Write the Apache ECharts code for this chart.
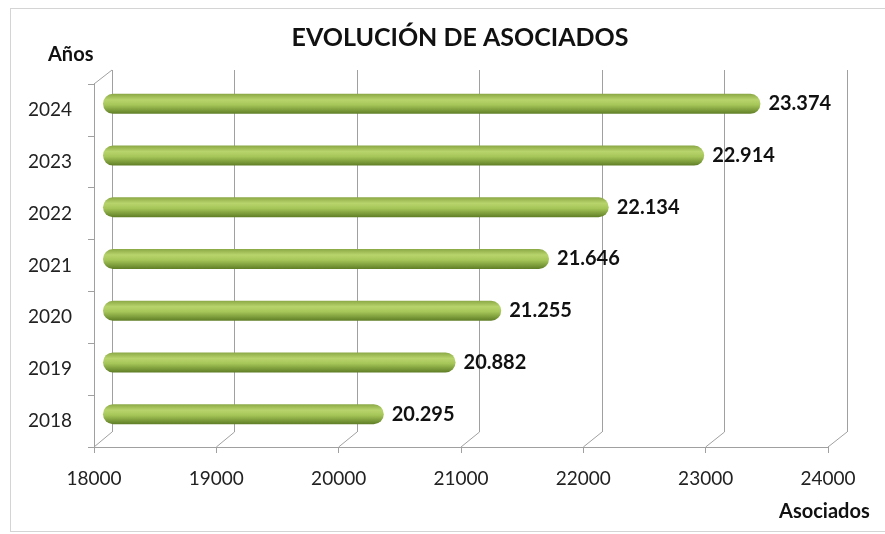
<!DOCTYPE html>
<html>
<head>
<meta charset="utf-8">
<script src="https://cdn.jsdelivr.net/npm/echarts@6/dist/echarts.min.js"></script>
<style>
html,body{margin:0;padding:0;background:#fff;}
#frame{position:absolute;left:10px;top:8px;width:880px;height:524px;border:1px solid #d4d4d4;box-sizing:border-box;}
#container{position:absolute;left:0;top:0;width:885px;height:534px;}
</style>
</head>
<body>
<div id="frame"></div>
<div id="container"></div>
<script>
var years=['2018','2019','2020','2021','2022','2023','2024'];
var socios=[20295,20882,21255,21646,22134,22914,23374];
var xMin=18000,xMax=24000,xStep=1000;

var dom=document.getElementById('container');
var myChart=echarts.init(dom);
var fnt='Lato, "Open Sans", sans-serif';
var gris='#a0a0a0';

function miles(v){
    return String(v).replace(/\B(?=(\d{3})+(?!\d))/g,'.');
}

var option={
    animation:false,
    title:{
        text:'EVOLUCIÓN DE ASOCIADOS',
        left:455,top:20,textAlign:'center',
        textStyle:{fontFamily:fnt,fontSize:25,fontWeight:'bold',color:'#111'}
    },
    graphic:[
        {type:'text',left:48,top:45,style:{text:'Años',fontFamily:fnt,fontSize:20,fontWeight:'bold',fill:'#111'}},
        {type:'text',left:779,top:502,style:{text:'Asociados',fontFamily:fnt,fontSize:20,fontWeight:'bold',fill:'#111'}}
    ],
    grid:[
        {left:112,right:38,top:70,bottom:102}, // pared del fondo
        {left:94,right:57,top:84,bottom:87},   // eje frontal
        {left:103,right:48,top:78,bottom:94}   // barras
    ],
    xAxis:[
        {gridIndex:0,type:'value',min:xMin,max:xMax,interval:xStep,
         axisLine:{show:false},axisTick:{show:false},axisLabel:{show:false},
         splitLine:{show:true,lineStyle:{color:gris,width:1}}},
        {gridIndex:1,type:'value',min:xMin,max:xMax,interval:xStep,
         axisLine:{show:true,lineStyle:{color:gris}},
         axisTick:{show:true,length:6,lineStyle:{color:gris}},
         axisLabel:{fontFamily:fnt,fontSize:19,color:'#222',margin:22,
                    formatter:function(v){return String(v);}},
         splitLine:{show:false}},
        {gridIndex:2,type:'value',min:xMin,max:xMax,show:false,splitLine:{show:false}}
    ],
    yAxis:[
        {gridIndex:0,type:'category',data:years,show:false},
        {gridIndex:1,type:'category',data:years,
         axisLine:{show:true,lineStyle:{color:gris}},
         axisTick:{show:true,inside:false,length:6,lineStyle:{color:gris}},
         axisLabel:{fontFamily:fnt,fontSize:19,color:'#222',margin:22}},
        {gridIndex:2,type:'category',data:years,show:false}
    ],
    series:[
        {type:'bar',xAxisIndex:0,yAxisIndex:0,data:[],silent:true},
        {type:'bar',xAxisIndex:1,yAxisIndex:1,data:[],silent:true},
        {
            type:'bar',xAxisIndex:2,yAxisIndex:2,
            data:socios,barWidth:20,
            itemStyle:{
                borderRadius:[10,10,10,10],
                color:new echarts.graphic.LinearGradient(0,0,0,1,[
                    {offset:0,color:'#8aa845'},
                    {offset:0.3,color:'#b8d46c'},
                    {offset:0.55,color:'#a6c659'},
                    {offset:1,color:'#5f7e26'}
                ])
            },
            label:{
                show:true,position:'right',distance:8,
                fontFamily:fnt,fontSize:20,fontWeight:'bold',color:'#111',
                formatter:function(p){return miles(p.value);}
            }
        }
    ]
};

myChart.setOption(option,true);

// lineas oblicuas del suelo 3D, desde la pared del fondo hasta el eje frontal
var extra=[];
for(var v=xMin;v<=xMax;v+=xStep){
    var atras=myChart.convertToPixel({gridIndex:0},[v,years[0]]);
    var frente=myChart.convertToPixel({gridIndex:1},[v,years[0]]);
    var yAtras=myChart.getModel().getComponent('grid',0).coordinateSystem.getRect();
    var yFrente=myChart.getModel().getComponent('grid',1).coordinateSystem.getRect();
    extra.push({type:'line',silent:true,
        shape:{x1:atras[0],y1:yAtras.y+yAtras.height,x2:frente[0],y2:yFrente.y+yFrente.height},
        style:{stroke:gris,lineWidth:1}});
}
var rA=myChart.getModel().getComponent('grid',0).coordinateSystem.getRect();
var rF=myChart.getModel().getComponent('grid',1).coordinateSystem.getRect();
extra.push({type:'line',silent:true,
    shape:{x1:rA.x,y1:rA.y,x2:rF.x,y2:rF.y},
    style:{stroke:gris,lineWidth:1}});
myChart.setOption({graphic:option.graphic.concat(extra)});
</script>
</body>
</html>
